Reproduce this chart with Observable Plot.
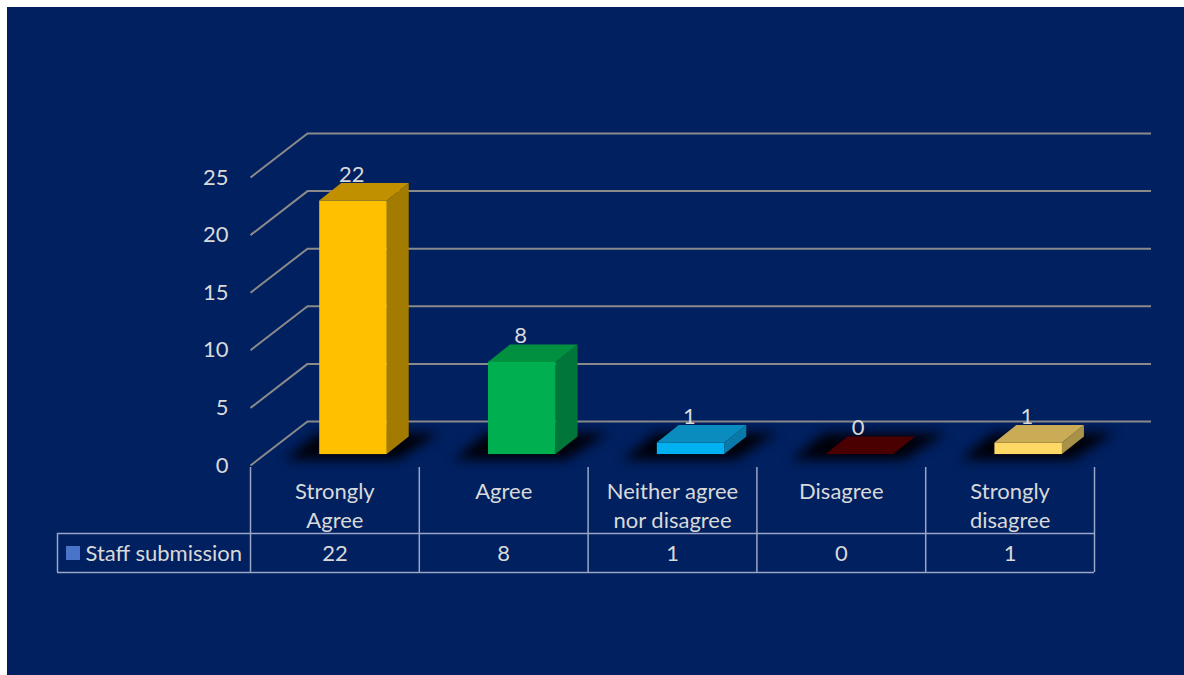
<!DOCTYPE html>
<html>
<head>
<meta charset="utf-8">
<script src="https://cdn.jsdelivr.net/npm/d3@7"></script>
<script src="https://cdn.jsdelivr.net/npm/@observablehq/plot@0.6"></script>
<style>
  html, body { margin: 0; padding: 0; background: #ffffff; }
  #panel { position: absolute; left: 7px; top: 7px; width: 1177px; height: 668px; background: #002060; overflow: hidden; }
  #panel svg { display: block; }
</style>
</head>
<body>
<div id="panel"></div>
<script>
// ---- data ----
const categories = ["Strongly\nAgree", "Agree", "Neither agree\nnor disagree", "Disagree", "Strongly\ndisagree"];
const values = [22, 8, 1, 0, 1];
const seriesName = "Staff submission";
const yTicks = [0, 5, 10, 15, 20, 25];
const frontColors = ["#FFC000", "#00B050", "#00B0F0", "#4A0000", "#FFD966"];
const topColors   = ["#C09000", "#00903F", "#0A8CBE", "#4A0000", "#C9AC55"];
const sideColors  = ["#A37B00", "#00763A", "#0879A8", "#3A0000", "#AA9148"];

// ---- layout (panel pixel space -> data space) ----
const X0 = 243, COLW = 168.8, Y0 = 458, UNIT = 11.52;
const toU = px => (px - 7 - X0) / COLW;
const toV = py => (Y0 - (py - 7)) / UNIT;
const DU = 57 / COLW, DV = 44 / UNIT;          // wall depth
const dUb = 22 / COLW, dVb = 17.5 / UNIT;      // bar depth
const su = 0.11, sv = 0.95, bw = 0.4;          // bar placement

const gridColor = "#8A8A8A";
const tableColor = "#9AA6C6";
const textColor = "#D9D9D9";
const FS = 22;

const bars = values.map((v, i) => {
  const L = i + 0.5 + su - bw / 2, R = L + bw;
  return {i, v, L, R};
});
const topPts = bars.flatMap(b => [
  {i: b.i, y: b.v + sv, x1: b.L, x2: b.R},
  {i: b.i, y: b.v + sv + dVb, x1: b.L + dUb, x2: b.R + dUb}
]);
const sidePts = bars.flatMap(b => [
  {i: b.i, x: b.R, y1: sv, y2: b.v + sv},
  {i: b.i, x: b.R + dUb, y1: sv + dVb, y2: b.v + sv + dVb}
]);
const shadowPts = bars.flatMap(b => [
  {i: b.i, y: sv - 0.5, x1: b.L - 0.2, x2: b.R + 0.06},
  {i: b.i, y: sv + dVb + 0.3, x1: b.L + dUb - 0.14, x2: b.R + dUb + 0.18}
]);

const chart = Plot.plot({
  width: 1177,
  height: 668,
  margin: 0,
  x: {type: "linear", domain: [0, 5], range: [X0, X0 + 5 * COLW], axis: null},
  y: {type: "linear", domain: [0, 25], range: [Y0, Y0 - 25 * UNIT], axis: null},
  style: {background: "#002060", fontFamily: "Lato, 'Open Sans', sans-serif", fontSize: FS + "px", overflow: "visible"},
  marks: [
    // walls
    Plot.ruleY(yTicks, {y: d => d + DV, x1: DU, x2: 5 + DU, stroke: gridColor, strokeWidth: 2}),
    Plot.link(yTicks, {x1: 0, y1: d => d, x2: DU, y2: d => d + DV, stroke: gridColor, strokeWidth: 2}),
    Plot.text(yTicks, {x: 0, y: d => d, dx: -22, text: d => String(d), textAnchor: "end", lineAnchor: "middle", fill: textColor, fontSize: FS}),
    // shadows (first area mark; blurred below)
    Plot.areaX(shadowPts, {y: "y", x1: "x1", x2: "x2", z: "i", fill: "#000008", fillOpacity: 1}),
    // bars
    Plot.areaY(sidePts, {x: "x", y1: "y1", y2: "y2", z: "i", fill: d => sideColors[d.i]}),
    Plot.areaX(topPts, {y: "y", x1: "x1", x2: "x2", z: "i", fill: d => topColors[d.i]}),
    Plot.rect(bars, {x1: "L", x2: "R", y1: sv, y2: d => d.v + sv, fill: d => frontColors[d.i]}),
    // value labels
    Plot.text(values, {x: (d, i) => i + 0.5 + 0.1, y: d => d + 3.25, text: d => String(d), lineAnchor: "middle", fill: textColor, fontSize: FS}),
    // data table
    Plot.ruleX(d3.range(6), {y1: toV(467), y2: toV(572), stroke: tableColor, strokeWidth: 1.5}),
    Plot.ruleX([toU(57)], {y1: toV(533), y2: toV(572), stroke: tableColor, strokeWidth: 1.5}),
    Plot.ruleY([toV(533), toV(572)], {x1: toU(57), x2: 5, stroke: tableColor, strokeWidth: 1.5}),
    Plot.text(categories, {x: (d, i) => i + 0.5, y: toV(478), text: d => d, lineAnchor: "top", lineHeight: 29 / FS, fill: textColor, fontSize: FS}),
    Plot.text(values, {x: (d, i) => i + 0.5, y: toV(553), text: d => String(d), lineAnchor: "middle", fill: textColor, fontSize: FS}),
    Plot.rect([seriesName], {x1: toU(66), x2: toU(80), y1: toV(560), y2: toV(546), fill: "#4A74C9"}),
    Plot.text([seriesName], {x: toU(85), y: toV(553), text: d => d, textAnchor: "start", lineAnchor: "middle", fill: textColor, fontSize: FS})
  ]
});

// blur the shadow mark (the first area group)
const areaGroups = chart.querySelectorAll('g[aria-label="area"]');
if (areaGroups.length) areaGroups[0].style.filter = "blur(6px)";
document.getElementById("panel").appendChild(chart);
</script>
</body>
</html>
